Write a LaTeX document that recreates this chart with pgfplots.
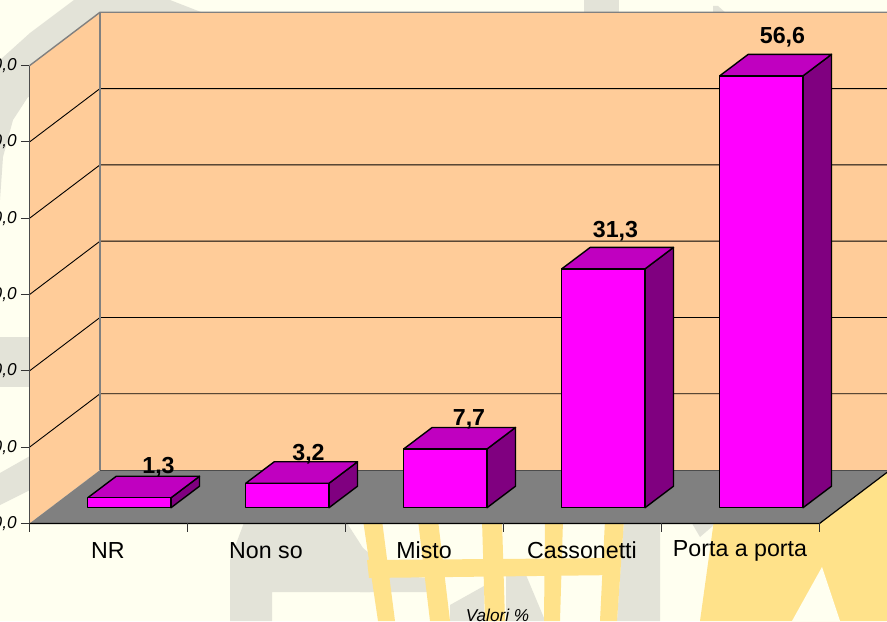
\documentclass[border=0pt]{standalone}
\usepackage{fontspec}
\setmainfont{Liberation Sans}
\usepackage{pgfplots}
\pgfplotsset{compat=1.18}

\definecolor{pagebg}{HTML}{FFFFF0}
\definecolor{wmgray}{HTML}{E3E3D8}
\definecolor{wmyellow}{HTML}{FFE28A}
\definecolor{wall}{HTML}{FFCC99}
\definecolor{floorgray}{HTML}{808080}
\definecolor{barfront}{HTML}{FF00FF}
\definecolor{bartop}{HTML}{C000C0}
\definecolor{barside}{HTML}{800080}

\newcommand{\catfont}{\fontsize{11.6}{14}\selectfont}
\newcommand{\axfont}{\fontsize{8.6}{10}\selectfont\itshape}

% one 3D column: index, value
\newcommand{\threedbar}[2]{%
  \pgfmathsetmacro\xa{#1+0.3684}%
  \pgfmathsetmacro\xb{#1+0.8956}%
  \pgfmathsetmacro\xc{#1+1.0760}%
  \pgfmathsetmacro\xd{#1+0.5488}%
  \pgfmathsetmacro\ya{2.07}%
  \pgfmathsetmacro\yb{2.07+#2}%
  \pgfmathsetmacro\yc{4.888}%
  \pgfmathsetmacro\yd{4.888+#2}%
  \addplot[draw=black, line width=0.7pt, fill=barside, line join=round]
    coordinates {(\xb,\ya)(\xc,\yc)(\xc,\yd)(\xb,\yb)} --cycle;
  \addplot[draw=black, line width=0.7pt, fill=bartop, line join=round]
    coordinates {(\xa,\yb)(\xb,\yb)(\xc,\yd)(\xd,\yd)} --cycle;
  \addplot[draw=black, line width=0.7pt, fill=barfront, line join=round]
    coordinates {(\xa,\ya)(\xb,\ya)(\xb,\yb)(\xa,\yb)} --cycle;
}

\begin{document}
\begin{tikzpicture}
\path[use as bounding box, clip] (0,0) rectangle (443.5pt,310.5pt);
\fill[pagebg] (0,0) rectangle (443.5pt,310.5pt);

% watermark behind the chart, in picture pixels
\begin{scope}[yshift=310.5pt, x=0.5pt, y=-0.5pt]
  \fill[wmgray] (0,60) -- (30,33) -- (74,0) -- (170,0) -- (206,14) -- (206,100)
    -- (28,97) -- (13,120) -- (3,157) -- (0,200) -- cycle;
  \fill[wmgray] (584,0) rectangle (619,20);
  \fill[wmgray] (713,6) -- (718,6) -- (727,14) -- (713,14) -- cycle;
  \fill[wmgray] (0,337) rectangle (30,387);
  \fill[wmgray] (0,473) -- (30,456) -- (30,490) -- (0,505) -- cycle;
  \fill[wmgray] (245,520) -- (345,520) -- (363,548) -- (370,592) -- (272,592)
    -- (272,621) -- (230,621) -- (230,560) -- cycle;
  \fill[wmgray] (363,548) -- (395,575) -- (427,578) -- (427,592) -- (360,592) -- cycle;
  \fill[wmgray] (450,605) -- (484,586) -- (484,621) -- (450,621) -- cycle;
  \fill[wmgray] (506,575) -- (526,575) -- (544,618) -- (544,621) -- (506,621) -- cycle;
  \fill[wmgray] (624,520) -- (660,520) -- (660,621) -- (617,621) -- cycle;
  \fill[wmgray] (690,520) -- (714,520) -- (714,525) -- (700,537) -- cycle;
  % ladder strips
  \fill[wmyellow] (363,520) -- (382,520) -- (395,621) -- (378,621) -- cycle;
  \fill[wmyellow] (418,520) -- (438,520) -- (450,621) -- (430,621) -- cycle;
  \fill[wmyellow] (482,520) -- (502,520) -- (505,621) -- (485,621) -- cycle;
  \fill[wmyellow] (545,520) -- (563,520) -- (560,621) -- (544,621) -- cycle;
  \fill[wmyellow] (605,520) -- (624,520) -- (617,621) -- (600,621) -- cycle;
  \fill[wmyellow] (367,560) -- (620,558) -- (620,575) -- (369,578) -- cycle;
  % big yellow area at lower right
  \fill[wmyellow] (714,520) -- (887,465) -- (887,621) -- (700,621) -- cycle;
  \fill[pagebg] (822,567) -- (840,621) -- (792,621) -- cycle;
\end{scope}

\begin{axis}[
    scale only axis, width=443.5pt, height=310.5pt,
    xmin=-0.1867, xmax=5.4272, ymin=-12.779, ymax=68.611,
    hide axis, clip=true, no markers,
]
% walls and floor
\addplot[fill=wall, draw=none]
  coordinates {(0,0)(0.4462,7)(0.4462,67)(0,60)} --cycle;
\addplot[fill=wall, draw=none]
  coordinates {(0.4462,7)(5.4462,7)(5.4462,67)(0.4462,67)} --cycle;

% gridlines 10..50
\addplot[black, line width=0.45pt] coordinates {(0,10)(0.4462,17)(5.4462,17)};
\addplot[black, line width=0.45pt] coordinates {(0,20)(0.4462,27)(5.4462,27)};
\addplot[black, line width=0.45pt] coordinates {(0,30)(0.4462,37)(5.4462,37)};
\addplot[black, line width=0.45pt] coordinates {(0,40)(0.4462,47)(5.4462,47)};
\addplot[black, line width=0.45pt] coordinates {(0,50)(0.4462,57)(5.4462,57)};

% wall outlines
\addplot[floorgray, line width=0.7pt] coordinates {(0,60)(0.4462,67)(5.4462,67)};
\addplot[floorgray, line width=0.7pt] coordinates {(0.4462,7)(0.4462,67)};

\addplot[fill=floorgray, draw=none]
  coordinates {(0,0)(5,0)(5.4462,7)(0.4462,7)} --cycle;
\addplot[black!70, line width=0.5pt] coordinates {(0.4462,7)(5.4462,7)};
\addplot[black, line width=0.6pt] coordinates {(0,0)(5,0)(5.4462,7)};
\addplot[black!70, line width=0.8pt] coordinates {(0,0)(0,60)};

% tick marks
\addplot[black!80, line width=0.5pt] coordinates {(-0.0538,0)(0,0)};
\addplot[black!80, line width=0.5pt] coordinates {(-0.0538,10)(0,10)};
\addplot[black!80, line width=0.5pt] coordinates {(-0.0538,20)(0,20)};
\addplot[black!80, line width=0.5pt] coordinates {(-0.0538,30)(0,30)};
\addplot[black!80, line width=0.5pt] coordinates {(-0.0538,40)(0,40)};
\addplot[black!80, line width=0.5pt] coordinates {(-0.0538,50)(0,50)};
\addplot[black!80, line width=0.5pt] coordinates {(-0.0538,60)(0,60)};
\addplot[black!80, line width=0.5pt] coordinates {(0,0)(0,-1.15)};
\addplot[black!80, line width=0.5pt] coordinates {(1,0)(1,-1.15)};
\addplot[black!80, line width=0.5pt] coordinates {(2,0)(2,-1.15)};
\addplot[black!80, line width=0.5pt] coordinates {(3,0)(3,-1.15)};
\addplot[black!80, line width=0.5pt] coordinates {(4,0)(4,-1.15)};
\addplot[black!80, line width=0.5pt] coordinates {(5,0)(5,-1.15)};

% columns
\threedbar{0}{1.3}
\threedbar{1}{3.2}
\threedbar{2}{7.7}
\threedbar{3}{31.3}
\threedbar{4}{56.6}

% value labels
\node[font=\catfont\bfseries] at (axis cs:0.8165,7.405) {1,3};
\node[font=\catfont\bfseries] at (axis cs:1.7658,9.109) {3,2};
\node[font=\catfont\bfseries] at (axis cs:2.7816,13.69) {7,7};
\node[font=\catfont\bfseries] at (axis cs:3.7089,38.34) {31,3};
\node[font=\catfont\bfseries] at (axis cs:4.7658,63.76) {56,6};

% category labels
\node[font=\catfont] at (axis cs:0.4968,-3.54) {NR};
\node[font=\catfont] at (axis cs:1.4968,-3.54) {Non so};
\node[font=\catfont] at (axis cs:2.4968,-3.54) {Misto};
\node[font=\catfont] at (axis cs:3.4968,-3.54) {Cassonetti};
\node[font=\catfont] at (axis cs:4.4968,-3.54) {Porta a porta};

% value axis labels, the left one cut by the page edge as in the source
\node[font=\axfont, anchor=east, inner sep=0pt] at (axis cs:-0.0791,0) {0,0};
\node[font=\axfont, anchor=east, inner sep=0pt] at (axis cs:-0.0791,10) {10,0};
\node[font=\axfont, anchor=east, inner sep=0pt] at (axis cs:-0.0791,20) {20,0};
\node[font=\axfont, anchor=east, inner sep=0pt] at (axis cs:-0.0791,30) {30,0};
\node[font=\axfont, anchor=east, inner sep=0pt] at (axis cs:-0.0791,40) {40,0};
\node[font=\axfont, anchor=east, inner sep=0pt] at (axis cs:-0.0791,50) {50,0};
\node[font=\axfont, anchor=east, inner sep=0pt] at (axis cs:-0.0791,60) {60,0};

\node[font=\axfont] at (axis cs:2.9620,-11.99) {Valori \%};
\end{axis}
\end{tikzpicture}
\end{document}
